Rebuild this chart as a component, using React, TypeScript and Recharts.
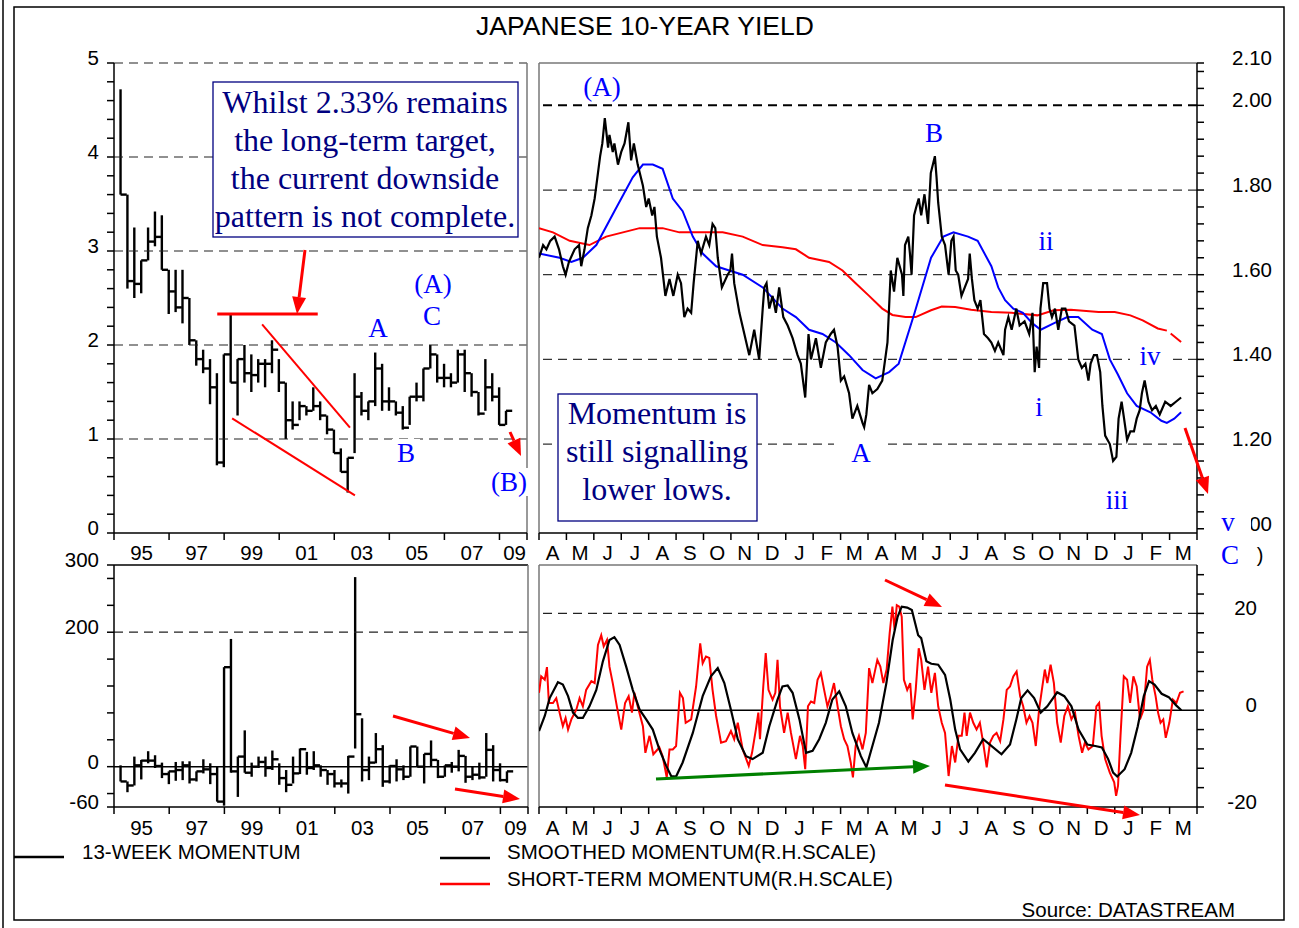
import React from 'react';
import { ComposedChart, Bar, Line, XAxis, YAxis, ReferenceLine } from 'recharts';

const SANS = '"Liberation Sans", Arial, Helvetica, sans-serif';
const SERIF = '"Liberation Serif", "Times New Roman", serif';

// ---------- long-term panels: quarterly bars, first bar 1994 Q2 ----------
const FIRST_QUARTER = 1994.25;

const YIELD_HIGH = [
  4.72, 3.6, 3.25, 2.9, 3.25, 3.42, 3.38, 2.8, 2.8, 2.8,
  2.5, 2.05, 1.95, 1.85, 1.7, 1.9, 2.33, 1.85, 2.0, 1.9,
  1.85, 1.85, 2.05, 1.85, 1.6, 1.4, 1.4, 1.35, 1.55, 1.4,
  1.25, 1.1, 0.9, 0.8, 1.7, 1.5, 1.4, 1.92, 1.8, 1.55,
  1.4, 1.35, 1.45, 1.6, 1.75, 2.0, 1.9, 1.8, 1.7, 1.95,
  1.95, 1.7, 1.5, 1.85, 1.7, 1.55, 1.3,
];
const YIELD_LOW = [
  3.6, 2.6, 2.5, 2.55, 2.9, 3.05, 2.8, 2.33, 2.35, 2.23,
  2.0, 1.78, 1.7, 1.37, 0.72, 0.7, 1.6, 1.25, 1.6, 1.5,
  1.6, 1.55, 1.7, 1.5, 1.0, 1.1, 1.2, 1.25, 1.3, 1.2,
  1.05, 0.85, 0.65, 0.43, 0.85, 1.25, 1.2, 1.35, 1.3, 1.3,
  1.25, 1.1, 1.15, 1.4, 1.4, 1.75, 1.6, 1.55, 1.55, 1.6,
  1.5, 1.45, 1.25, 1.3, 1.4, 1.15, 1.15,
];
const YIELD_CLOSE = [
  3.6, 2.68, 2.65, 2.9, 3.1, 3.15, 2.8, 2.57, 2.4, 2.5,
  2.05, 1.85, 1.75, 1.55, 0.75, 1.9, 1.6, 1.85, 1.7, 1.68,
  1.8, 1.8, 1.95, 1.6, 1.2, 1.15, 1.35, 1.3, 1.35, 1.25,
  1.1, 0.85, 0.65, 0.8, 1.45, 1.3, 1.4, 1.75, 1.4, 1.4,
  1.28, 1.12, 1.45, 1.45, 1.75, 1.9, 1.65, 1.65, 1.6, 1.9,
  1.7, 1.5, 1.27, 1.55, 1.45, 1.15, 1.3,
];

const MOM13_HIGH = [
  2, -22, 15, 10, 23, 17, 6, -7, 7, 8,
  8, -7, 11, 5, 0, 148, 190, 15, 54, 6,
  15, 15, 24, 5, -5, 15, 27, 22, 23, 2,
  -5, -5, -19, 16, 282, 72, 15, 50, 32, 2,
  11, 2, 30, 30, 19, 39, 10, 2, 7, 25,
  16, 0, 6, 50, 32, 5, -7,
];
const MOM13_LOW = [
  -22, -38, -28, -19, 5, -2, -17, -26, -21, -20,
  -25, -22, -10, -26, -52, -58, -9, -45, -9, -15,
  -2, -15, -5, -27, -38, -25, -11, -12, -5, -15,
  -27, -31, -31, -40, 27, -22, -20, 5, -30, -25,
  -22, -20, -15, 0, -25, 1, -17, -15, -9, -7,
  -24, -20, -19, -15, -22, -22, -24,
];
const MOM13_CLOSE = [
  -22, -28, 2, 9, 9, 1, -11, -7, -5, 2,
  -19, -7, -4, -11, -52, 148, -7, 15, -9, 0,
  7, -2, 11, -17, -27, -10, 26, -2, 2, -5,
  -11, -25, -25, 15, 78, -5, 6, 26, -22, 1,
  -4, -15, 30, 0, 19, 10, -15, 2, 0, 16,
  -15, -12, -16, 25, -5, -20, -7,
];

const YEAR_TICKS = [1994, 1996, 1998, 2000, 2002, 2004, 2006, 2008, 2009];
const YEAR_LABEL_AT = [1995, 1997, 1999, 2001, 2003, 2005, 2007, 2008.55];
const YEAR_LABELS = ['95', '97', '99', '01', '03', '05', '07', '09'];

const LEFT_YIELD_LABELS = [0, 1, 2, 3, 4, 5];
const LEFT_YIELD_GRID = [1, 2, 3, 4, 5];
const MOM13_TICKS = [-60, -40, 0, 40, 80, 120, 160, 200, 240, 280, 300];
const MOM13_LABELS = [-60, 0, 200, 300];

// ---------- short-term panels: months since 1 Apr 2007 ----------
const MONTH_LABELS = ['A', 'M', 'J', 'J', 'A', 'S', 'O', 'N', 'D', 'J', 'F', 'M',
  'A', 'M', 'J', 'J', 'A', 'S', 'O', 'N', 'D', 'J', 'F', 'M'];

const DAILY_YIELD: [number, number][] = [
  [0.0, 1.64], [0.15, 1.67], [0.27, 1.66], [0.41, 1.68], [0.57, 1.69], [0.73, 1.66], [0.87, 1.62], [0.97, 1.6],
  [1.09, 1.63], [1.3, 1.66], [1.46, 1.67], [1.54, 1.62], [1.66, 1.66], [1.78, 1.71], [1.91, 1.74], [2.03, 1.78],
  [2.15, 1.84], [2.23, 1.88], [2.31, 1.91], [2.4, 1.97], [2.52, 1.9], [2.57, 1.93], [2.69, 1.89], [2.75, 1.91],
  [2.88, 1.86], [3.0, 1.89], [3.12, 1.91], [3.26, 1.96], [3.36, 1.87], [3.46, 1.91], [3.6, 1.86], [3.79, 1.81],
  [3.91, 1.76], [4.0, 1.78], [4.13, 1.74], [4.21, 1.76], [4.3, 1.69], [4.45, 1.64], [4.61, 1.55], [4.76, 1.59],
  [4.9, 1.55], [5.06, 1.6], [5.18, 1.58], [5.3, 1.5], [5.42, 1.52], [5.55, 1.51], [5.64, 1.58], [5.79, 1.68],
  [5.91, 1.65], [6.09, 1.69], [6.21, 1.67], [6.33, 1.72], [6.43, 1.71], [6.52, 1.64], [6.67, 1.57], [6.88, 1.6],
  [6.98, 1.61], [7.04, 1.65], [7.12, 1.58], [7.31, 1.51], [7.49, 1.46], [7.67, 1.41], [7.85, 1.47], [8.03, 1.4],
  [8.16, 1.52], [8.22, 1.57], [8.3, 1.58], [8.4, 1.52], [8.52, 1.55], [8.64, 1.51], [8.76, 1.57], [8.91, 1.5],
  [9.07, 1.48], [9.25, 1.45], [9.43, 1.41], [9.55, 1.39], [9.71, 1.31], [9.83, 1.46], [9.92, 1.4], [10.1, 1.45],
  [10.28, 1.38], [10.46, 1.44], [10.64, 1.46], [10.76, 1.47], [10.89, 1.43], [11.01, 1.35], [11.13, 1.36], [11.31, 1.32],
  [11.43, 1.26], [11.61, 1.29], [11.8, 1.25], [11.86, 1.24], [11.94, 1.27], [12.04, 1.34], [12.16, 1.32], [12.34, 1.33],
  [12.52, 1.35], [12.71, 1.44], [12.83, 1.61], [12.95, 1.56], [13.07, 1.64], [13.24, 1.6], [13.29, 1.55], [13.35, 1.67],
  [13.47, 1.69], [13.53, 1.65], [13.59, 1.6], [13.68, 1.74], [13.76, 1.76], [13.85, 1.78], [13.94, 1.74], [14.06, 1.79],
  [14.19, 1.72], [14.29, 1.84], [14.44, 1.88], [14.5, 1.83], [14.56, 1.77], [14.69, 1.69], [14.81, 1.67], [14.94, 1.6],
  [15.04, 1.68], [15.12, 1.69], [15.2, 1.61], [15.29, 1.6], [15.41, 1.55], [15.53, 1.57], [15.65, 1.59], [15.71, 1.65],
  [15.79, 1.59], [15.88, 1.54], [16.0, 1.52], [16.1, 1.54], [16.23, 1.46], [16.38, 1.45], [16.5, 1.44], [16.63, 1.42],
  [16.75, 1.44], [16.94, 1.41], [17.0, 1.47], [17.12, 1.5], [17.24, 1.47], [17.41, 1.52], [17.53, 1.48], [17.71, 1.49],
  [17.88, 1.46], [18.0, 1.51], [18.08, 1.37], [18.15, 1.43], [18.24, 1.38], [18.29, 1.52], [18.39, 1.58], [18.53, 1.58],
  [18.62, 1.52], [18.71, 1.5], [18.82, 1.52], [18.94, 1.47], [19.07, 1.52], [19.2, 1.52], [19.33, 1.49], [19.53, 1.48],
  [19.67, 1.4], [19.8, 1.38], [19.93, 1.39], [20.04, 1.35], [20.12, 1.39], [20.24, 1.41], [20.35, 1.41], [20.47, 1.37],
  [20.55, 1.29], [20.65, 1.22], [20.82, 1.2], [20.94, 1.16], [21.06, 1.17], [21.14, 1.26], [21.25, 1.3], [21.34, 1.26],
  [21.45, 1.21], [21.57, 1.23], [21.7, 1.23], [21.8, 1.26], [21.91, 1.28], [21.99, 1.32], [22.09, 1.35], [22.23, 1.3],
  [22.36, 1.28], [22.5, 1.29], [22.64, 1.27], [22.84, 1.3], [23.04, 1.29], [23.23, 1.3], [23.42, 1.31],
];

const SHORT_AVERAGE: [number, number][] = [
  [0, 1.65], [0.75, 1.64], [1.18, 1.63], [1.6, 1.64], [2.09, 1.67], [2.75, 1.75], [3.42, 1.83], [3.79, 1.86],
  [4.15, 1.86], [4.51, 1.85], [4.88, 1.78], [5.24, 1.75], [5.61, 1.69], [5.97, 1.65], [6.46, 1.62], [6.94, 1.61],
  [7.43, 1.6], [8.16, 1.57], [8.88, 1.52], [9.37, 1.5], [9.85, 1.47], [10.34, 1.46], [10.83, 1.44], [11.31, 1.41],
  [11.8, 1.375], [12.28, 1.355], [12.77, 1.37], [13.12, 1.39], [13.7, 1.51], [14.3, 1.64], [14.75, 1.69], [15.12, 1.7],
  [15.65, 1.69], [16.0, 1.68], [16.5, 1.62], [16.75, 1.57], [17.0, 1.54], [17.3, 1.52], [17.65, 1.51], [18.0, 1.485],
  [18.3, 1.47], [18.77, 1.485], [19.27, 1.5], [19.67, 1.5], [20.18, 1.47], [20.53, 1.46], [20.82, 1.4], [21.11, 1.365],
  [21.45, 1.32], [21.8, 1.29], [22.3, 1.275], [22.7, 1.255], [22.9, 1.25], [23.17, 1.26], [23.42, 1.275],
];

const LONG_AVERAGE: [number, number | null][] = [
  [0, 1.71], [0.51, 1.7], [1.12, 1.68], [1.84, 1.67], [2.45, 1.69], [3.06, 1.7], [3.67, 1.71], [4.51, 1.71],
  [5.12, 1.7], [5.97, 1.7], [6.7, 1.7], [7.43, 1.69], [8.16, 1.67], [8.88, 1.665], [9.37, 1.66], [9.85, 1.64],
  [10.58, 1.63], [11.07, 1.61], [11.55, 1.58], [12.04, 1.55], [12.52, 1.52], [12.89, 1.505], [13.37, 1.5], [13.74, 1.5],
  [14.3, 1.516], [14.69, 1.525], [15.18, 1.524], [15.76, 1.517], [16.5, 1.512], [17.24, 1.51], [18.18, 1.504], [18.77, 1.516],
  [19.4, 1.517], [20.41, 1.512], [21.0, 1.512], [21.57, 1.504], [22.02, 1.492], [22.57, 1.473], [22.9, 1.468], [22.97, null],
  [23.04, 1.461], [23.42, 1.441],
];

const SMOOTHED_MOM: [number, number][] = [
  [0, -4.3], [0.21, -1.2], [0.39, 2.5], [0.69, 5.8], [0.87, 5.3], [1.06, 2.9], [1.24, -0.5], [1.42, -1.6],
  [1.6, -1.6], [1.84, 0.8], [2.09, 4.2], [2.33, 10.1], [2.57, 14.5], [2.75, 15.1], [2.94, 13.5], [3.18, 9.0],
  [3.42, 4.2], [3.67, 0.1], [3.91, -1.9], [4.15, -4.0], [4.39, -8.1], [4.64, -11.5], [4.82, -13.6], [5.0, -13.7],
  [5.24, -10.8], [5.61, -4.7], [5.97, 2.9], [6.27, 7.0], [6.52, 8.7], [6.76, 5.6], [7.0, 0.1], [7.25, -6.0],
  [7.55, -9.5], [7.79, -10.1], [8.16, -8.8], [8.4, -3.3], [8.7, 2.2], [8.88, 4.9], [9.07, 5.1], [9.25, 3.6],
  [9.5, -1.9], [9.74, -8.8], [9.98, -8.4], [10.22, -6.0], [10.46, -2.6], [10.7, 2.2], [10.95, 3.9], [11.19, 0.8],
  [11.43, -4.7], [11.74, -9.5], [11.94, -11.8], [12.16, -7.4], [12.4, -2.6], [12.67, 5.6], [12.9, 14.5], [13.08, 19.3],
  [13.23, 21.4], [13.43, 21.2], [13.6, 20.7], [13.83, 15.5], [13.94, 14.9], [14.13, 10.1], [14.31, 9.6], [14.56, 9.4],
  [14.81, 7.3], [15.0, 2.2], [15.18, -4.0], [15.36, -8.1], [15.66, -10.6], [15.9, -8.8], [16.2, -6.0], [16.51, -7.4],
  [16.87, -9.1], [17.18, -7.1], [17.41, -1.9], [17.59, 2.5], [17.82, 4.1], [18.06, 2.5], [18.3, -0.5], [18.54, 0.8],
  [18.9, 3.7], [19.16, 2.9], [19.42, 0.8], [19.68, -4.0], [20.0, -7.1], [20.29, -7.4], [20.53, -7.7], [20.76, -10.1],
  [20.94, -12.9], [21.09, -13.7], [21.36, -12.2], [21.6, -8.8], [21.84, -3.3], [22.06, 2.9], [22.25, 6.0], [22.45, 5.3],
  [22.71, 3.4], [22.97, 2.7], [23.24, 1.0], [23.43, 0.0],
];

const SHORT_MOM: [number, number][] = [
  [0.0, 3.6], [0.08, 7.0], [0.21, 6.3], [0.29, 8.9], [0.36, 1.5], [0.51, 1.5], [0.63, 2.5], [0.75, -0.5],
  [0.87, -3.3], [0.97, -1.6], [1.06, -4.0], [1.18, -1.9], [1.36, 0.1], [1.48, 2.5], [1.6, 0.8], [1.72, 4.2],
  [1.91, 6.0], [2.03, 5.6], [2.15, 13.5], [2.27, 15.5], [2.36, 13.2], [2.48, 14.5], [2.57, 9.0], [2.69, 5.6],
  [2.84, 0.8], [3.0, -4.0], [3.14, 1.5], [3.27, 2.9], [3.39, -0.5], [3.48, 3.6], [3.6, 0.8], [3.79, -3.3],
  [3.88, -8.8], [4.03, -5.3], [4.17, -9.1], [4.39, -7.7], [4.51, -9.5], [4.66, -13.9], [4.76, -8.1], [4.88, -8.1],
  [5.0, -7.4], [5.14, 3.6], [5.25, 2.5], [5.35, -2.6], [5.55, -1.9], [5.73, 4.9], [5.88, 13.8], [5.97, 9.7],
  [6.09, 11.1], [6.21, 10.8], [6.33, 4.2], [6.46, -1.2], [6.64, -6.7], [6.82, -6.4], [7.0, -4.3], [7.12, -6.0],
  [7.25, -2.6], [7.43, -8.1], [7.65, -11.5], [7.77, -8.8], [7.91, -4.0], [8.0, -0.5], [8.06, -6.0], [8.18, 4.9],
  [8.27, 11.8], [8.37, 4.2], [8.52, 2.2], [8.62, 3.6], [8.7, 10.4], [8.79, 0.8], [8.94, -4.7], [9.07, -0.5],
  [9.19, -4.7], [9.37, -10.1], [9.52, -5.3], [9.62, -7.4], [9.71, -12.2], [9.81, 0.8], [9.92, 1.8], [10.04, 1.5],
  [10.16, 6.3], [10.28, 7.7], [10.4, 4.2], [10.52, 0.8], [10.64, 2.9], [10.76, 5.6], [10.89, 0.8], [11.01, -3.3],
  [11.13, -6.0], [11.25, -7.4], [11.37, -10.8], [11.45, -13.9], [11.55, -7.4], [11.67, -5.3], [11.8, -8.1], [11.92, -4.7],
  [12.04, 8.7], [12.16, 5.6], [12.34, 10.4], [12.45, 9.0], [12.56, 5.6], [12.68, 8.4], [12.79, 15.9], [12.89, 21.4],
  [12.97, 16.6], [13.05, 21.7], [13.14, 21.4], [13.23, 19.3], [13.31, 6.3], [13.43, 4.2], [13.54, 5.6], [13.63, -1.9],
  [13.74, 4.2], [13.85, 12.8], [13.94, 10.4], [14.06, 4.2], [14.19, 9.0], [14.31, 3.6], [14.44, 7.7], [14.56, 0.8],
  [14.69, -2.6], [14.81, -4.7], [14.94, -13.6], [15.06, -7.4], [15.18, -10.8], [15.3, -5.3], [15.42, -5.3], [15.52, -0.5],
  [15.6, -5.3], [15.72, -0.5], [15.84, -2.6], [15.96, -4.0], [16.08, -2.6], [16.2, -6.7], [16.33, -11.8], [16.45, -6.7],
  [16.57, -5.3], [16.69, -4.7], [16.82, -6.4], [16.94, -1.9], [17.06, 4.2], [17.18, 4.9], [17.3, 7.0], [17.42, 8.0],
  [17.55, 2.9], [17.66, 0.8], [17.78, -2.6], [17.89, -1.2], [18.0, -2.6], [18.12, -7.4], [18.24, 0.1], [18.36, 4.9],
  [18.45, 8.4], [18.54, 5.6], [18.66, 9.4], [18.78, 5.6], [18.9, -2.6], [19.03, -6.7], [19.16, -1.2], [19.29, 0.8],
  [19.42, -1.9], [19.55, -0.5], [19.68, -5.3], [19.81, -8.8], [19.91, -6.7], [20.04, -8.1], [20.2, -7.4], [20.33, 0.8],
  [20.43, 1.5], [20.52, -5.3], [20.65, -10.1], [20.82, -12.9], [20.98, -14.9], [21.05, -17.7], [21.12, -15.6], [21.21, -5.3],
  [21.33, 7.0], [21.45, 6.3], [21.56, 1.5], [21.68, 7.0], [21.8, 4.9], [21.92, -1.9], [22.05, 0.1], [22.18, 9.0],
  [22.28, 10.4], [22.37, 6.3], [22.49, 2.9], [22.58, -0.5], [22.67, -2.6], [22.77, -1.9], [22.86, -5.7], [22.99, -2.6],
  [23.12, 2.2], [23.25, 1.5], [23.38, 3.6], [23.51, 3.9],
];

const RIGHT_YIELD_LABELS = [1.0, 1.2, 1.4, 1.6, 1.8, 2.0, 2.1];
const RIGHT_YIELD_GRID = [1.2, 1.4, 1.6, 1.8, 2.0];
const RIGHT_MOM_LABELS = [-20, 0, 20];

// ---------- derived tables / axis tick lists ----------
const quarterRows = (hi: number[], lo: number[], cl: number[]) =>
  hi.map((h, i) => ({ t: FIRST_QUARTER + i * 0.25, range: [lo[i], h], hi: h, lo: lo[i], close: cl[i] }));
const yieldRows = quarterRows(YIELD_HIGH, YIELD_LOW, YIELD_CLOSE);
const momRows = quarterRows(MOM13_HIGH, MOM13_LOW, MOM13_CLOSE);
const pts = (a: [number, number | null][]) => a.map(([t, v]) => ({ t, v }));

const YEAR_AXIS_TICKS = [...YEAR_TICKS, ...YEAR_LABEL_AT].sort((a, b) => a - b);
const MONTH_TICK_AT = Array.from({ length: 25 }, (_, i) => i);
const MONTH_LABEL_AT = MONTH_LABELS.map((_, i) => i + 0.5);
const MONTH_AXIS_TICKS = [...MONTH_TICK_AT, ...MONTH_LABEL_AT].sort((a, b) => a - b);
const LEFT_YIELD_TICKS = Array.from({ length: 26 }, (_, i) => Math.round(i * 2) / 10);
const RIGHT_YIELD_TICKS = [...Array.from({ length: 28 }, (_, i) => Math.round(100 + i * 4) / 100), 2.1];
const RIGHT_MOM_TICKS = Array.from({ length: 13 }, (_, i) => -20 + i * 4);

const AXIS = { stroke: '#000', strokeWidth: 1.5 };
const FRAME = '#777';
const DASH = '9 6';
const LABEL_SIZE = 20.5;

const near = (list: number[], v: number) => list.findIndex((l) => Math.abs(l - v) < 1e-6);

const xTick = (tickAt: number[], labelAt: number[], labels: string[], dy: number) => (p: any) => {
  const v = p.payload.value;
  const k = near(labelAt, v);
  if (k >= 0) {
    return (
      <text x={p.x} y={p.y + dy} textAnchor="middle" fontSize={LABEL_SIZE} fontFamily={SANS} fill="#000">
        {labels[k]}
      </text>
    );
  }
  if (near(tickAt, v) >= 0) return <line x1={p.x} y1={p.y} x2={p.x} y2={p.y + 7} stroke="#000" strokeWidth={1.5} />;
  return <g />;
};

const yTick = (labels: number[], digits: number, dx: number) => (p: any) => {
  const v = p.payload.value;
  if (near(labels, v) < 0) return <g />;
  return (
    <text x={p.x + dx} y={p.y + 2} textAnchor="end" fontSize={LABEL_SIZE} fontFamily={SANS} fill="#000">
      {v.toFixed(digits)}
    </text>
  );
};

// high-low bar with the close carried to the next quarter (step look)
const HlcShape = (p: any) => {
  const { x, y, width, height, payload } = p;
  if (x == null || y == null || !payload) return <g />;
  const top = Math.min(y, y + height);
  const bottom = Math.max(y, y + height);
  const span = payload.hi - payload.lo;
  const yc = span > 0 ? top + ((bottom - top) * (payload.hi - payload.close)) / span : top;
  const cx = x + width / 2;
  return (
    <g>
      <line x1={cx} y1={top} x2={cx} y2={bottom} stroke="#000" strokeWidth={2.4} />
      <line x1={cx} y1={yc} x2={cx + width} y2={yc} stroke="#000" strokeWidth={2.4} />
    </g>
  );
};

const LongYieldChart = () => (
  <ComposedChart width={560} height={575} data={yieldRows} margin={{ top: 63, right: 33, bottom: 12, left: 54 }}>
    <XAxis dataKey="t" type="number" domain={[1994, 2009]} allowDataOverflow ticks={YEAR_AXIS_TICKS} interval={0}
      tick={xTick(YEAR_TICKS, YEAR_LABEL_AT, YEAR_LABELS, 27)} tickLine={false} tickSize={0} tickMargin={0} height={30} axisLine={AXIS} />
    <YAxis type="number" domain={[0, 5]} allowDataOverflow ticks={LEFT_YIELD_TICKS} interval={0}
      tick={yTick(LEFT_YIELD_LABELS, 0, 0)} tickSize={7} tickMargin={8} width={60} axisLine={AXIS} tickLine={AXIS} />
    {LEFT_YIELD_GRID.map((v) => (
      <ReferenceLine key={v} y={v} stroke="#222" strokeWidth={1.2} strokeDasharray={DASH} />
    ))}
    <ReferenceLine x={2009} stroke={FRAME} strokeWidth={1.5} />
    <ReferenceLine segment={[{ x: 1997.75, y: 2.33 }, { x: 2001.4, y: 2.33 }]} stroke="#ff0000" strokeWidth={3} ifOverflow="visible" />
    <ReferenceLine segment={[{ x: 1999.38, y: 2.22 }, { x: 2002.57, y: 1.12 }]} stroke="#ff0000" strokeWidth={2} ifOverflow="visible" />
    <ReferenceLine segment={[{ x: 1998.29, y: 1.22 }, { x: 2002.75, y: 0.4 }]} stroke="#ff0000" strokeWidth={2} ifOverflow="visible" />
    <Bar dataKey="range" barSize={7} shape={HlcShape} isAnimationActive={false} />
  </ComposedChart>
);

const LongMomChart = () => (
  <ComposedChart width={560} height={320} data={momRows} margin={{ top: 25, right: 32, bottom: 23, left: 54 }}>
    <XAxis dataKey="t" type="number" domain={[1994, 2009]} allowDataOverflow ticks={YEAR_AXIS_TICKS} interval={0}
      tick={xTick(YEAR_TICKS, YEAR_LABEL_AT, YEAR_LABELS, 28)} tickLine={false} tickSize={0} tickMargin={0} height={30} axisLine={AXIS} />
    <YAxis type="number" domain={[-60, 300]} allowDataOverflow ticks={MOM13_TICKS} interval={0}
      tick={yTick(MOM13_LABELS, 0, 0)} tickSize={7} tickMargin={8} width={60} axisLine={AXIS} tickLine={AXIS} />
    <ReferenceLine y={200} stroke="#222" strokeWidth={1.2} strokeDasharray={DASH} />
    <ReferenceLine y={0} stroke="#000" strokeWidth={1.5} />
    <ReferenceLine y={300} stroke="#000" strokeWidth={1.5} />
    <ReferenceLine x={2009} stroke={FRAME} strokeWidth={1.5} />
    <Bar dataKey="range" barSize={7} shape={HlcShape} isAnimationActive={false} />
  </ComposedChart>
);

const DailyYieldChart = () => (
  <ComposedChart width={769} height={575} margin={{ top: 63, right: 42, bottom: 12, left: 9 }}>
    <XAxis dataKey="t" type="number" domain={[0, 24]} allowDataOverflow ticks={MONTH_AXIS_TICKS} interval={0}
      tick={xTick(MONTH_TICK_AT, MONTH_LABEL_AT, MONTH_LABELS, 27)} tickLine={false} tickSize={0} tickMargin={0} height={30} axisLine={AXIS} />
    <YAxis orientation="right" type="number" domain={[0.99, 2.1]} allowDataOverflow ticks={RIGHT_YIELD_TICKS} interval={0}
      tick={yTick(RIGHT_YIELD_LABELS, 2, 66)} tickSize={7} tickMargin={2} width={60} axisLine={AXIS} tickLine={AXIS} />
    {RIGHT_YIELD_GRID.map((v) => (
      <ReferenceLine key={v} y={v} stroke={v === 2.0 ? '#000' : '#333'} strokeWidth={v === 2.0 ? 2 : 1.2} strokeDasharray={DASH} />
    ))}
    <ReferenceLine x={0} stroke={FRAME} strokeWidth={1.5} />
    <ReferenceLine y={2.1} stroke={FRAME} strokeWidth={1.5} />
    <Line data={pts(LONG_AVERAGE)} dataKey="v" stroke="#ff0000" strokeWidth={2} dot={false} isAnimationActive={false} />
    <Line data={pts(SHORT_AVERAGE)} dataKey="v" stroke="#0000ff" strokeWidth={2} dot={false} isAnimationActive={false} />
    <Line data={pts(DAILY_YIELD)} dataKey="v" stroke="#000" strokeWidth={2.2} dot={false} isAnimationActive={false} />
  </ComposedChart>
);

const DailyMomChart = () => (
  <ComposedChart width={769} height={320} margin={{ top: 25, right: 42, bottom: 23, left: 9 }}>
    <XAxis dataKey="t" type="number" domain={[0, 24]} allowDataOverflow ticks={MONTH_AXIS_TICKS} interval={0}
      tick={xTick(MONTH_TICK_AT, MONTH_LABEL_AT, MONTH_LABELS, 28)} tickLine={false} tickSize={0} tickMargin={0} height={30} axisLine={AXIS} />
    <YAxis orientation="right" type="number" domain={[-20, 30]} allowDataOverflow ticks={RIGHT_MOM_TICKS} interval={0}
      tick={yTick(RIGHT_MOM_LABELS, 0, 51)} tickSize={7} tickMargin={2} width={60} axisLine={AXIS} tickLine={AXIS} />
    <ReferenceLine y={20} stroke="#222" strokeWidth={1.2} strokeDasharray={DASH} />
    <ReferenceLine y={0} stroke="#000" strokeWidth={1.5} />
    <ReferenceLine x={0} stroke={FRAME} strokeWidth={1.5} />
    <ReferenceLine y={30} stroke={FRAME} strokeWidth={1.5} />
    <Line data={pts(SHORT_MOM)} dataKey="v" stroke="#ff0000" strokeWidth={2} dot={false} isAnimationActive={false} />
    <Line data={pts(SMOOTHED_MOM)} dataKey="v" stroke="#000" strokeWidth={2.2} dot={false} isAnimationActive={false} />
  </ComposedChart>
);

// ---------- annotations ----------
const ARROWS = [
  { x1: 305, y1: 250, x2: 297, y2: 314, c: '#ff0000' },
  { x1: 510, y1: 432, x2: 521, y2: 456, c: '#ff0000' },
  { x1: 1185, y1: 428, x2: 1208, y2: 494, c: '#ff0000' },
  { x1: 393, y1: 716, x2: 470, y2: 738, c: '#ff0000' },
  { x1: 455, y1: 789, x2: 520, y2: 799, c: '#ff0000' },
  { x1: 885, y1: 580, x2: 942, y2: 607, c: '#ff0000' },
  { x1: 656, y1: 779, x2: 930, y2: 766, c: '#008000' },
  { x1: 945, y1: 785, x2: 1140, y2: 815, c: '#ff0000' },
];

// w = width of the white patch behind each label
const WAVE_LABELS = [
  { t: '(A)', x: 433, y: 284, w: 48 }, { t: 'A', x: 378, y: 328, w: 26 }, { t: 'C', x: 432, y: 316, w: 26 },
  { t: 'B', x: 406, y: 453, w: 28 }, { t: '(B)', x: 509, y: 482, w: 46 },
  { t: '(A)', x: 602, y: 87, w: 74 }, { t: 'B', x: 934, y: 133, w: 28 }, { t: 'A', x: 861, y: 453, w: 54 },
  { t: 'ii', x: 1046, y: 241, w: 24 }, { t: 'i', x: 1039, y: 407, w: 16 }, { t: 'iv', x: 1150, y: 356, w: 40 },
  { t: 'iii', x: 1117, y: 500, w: 34 }, { t: 'v', x: 1228, y: 522, w: 46 }, { t: 'C', x: 1230, y: 555, w: 44 },
];

const Arrow = ({ x1, y1, x2, y2, c }: { x1: number; y1: number; x2: number; y2: number; c: string }) => {
  const a = Math.atan2(y2 - y1, x2 - x1);
  const head = 17;
  const bx = x2 - head * Math.cos(a);
  const by = y2 - head * Math.sin(a);
  const px = -Math.sin(a) * 7;
  const py = Math.cos(a) * 7;
  return (
    <g>
      <line x1={x1} y1={y1} x2={bx} y2={by} stroke={c} strokeWidth={3} />
      <polygon points={`${x2},${y2} ${bx + px},${by + py} ${bx - px},${by - py}`} fill={c} />
    </g>
  );
};

const TextBox = ({ x, y, w, h, lines, cx, top }: { x: number; y: number; w: number; h: number; lines: string[]; cx: number; top: number }) => (
  <g>
    <rect x={x} y={y} width={w} height={h} fill="#fff" stroke="#000080" strokeWidth={1.3} />
    {lines.map((l, i) => (
      <text key={i} x={cx} y={top + i * 38} textAnchor="middle" fontSize={32} fontFamily={SERIF} fill="#000080">
        {l}
      </text>
    ))}
  </g>
);

const Overlay = () => (
  <svg width={1299} height={928} style={{ position: 'absolute', left: 0, top: 0, pointerEvents: 'none' }}>
    <line x1={3} y1={0} x2={3} y2={928} stroke="#000" strokeWidth={1.5} />
    <rect x={14} y={7} width={1270} height={913} fill="none" stroke="#000" strokeWidth={1.5} />
    <text x={645} y={35} textAnchor="middle" fontSize={26.5} fontFamily={SANS} fill="#000">JAPANESE 10-YEAR YIELD</text>

    <TextBox x={213} y={82} w={305} h={155} cx={365} top={113}
      lines={['Whilst 2.33% remains', 'the long-term target,', 'the current downside', 'pattern is not complete.']} />
    <TextBox x={558} y={394} w={199} h={127} cx={657} top={424}
      lines={['Momentum is', 'still signalling', 'lower lows.']} />

    {ARROWS.map((a, i) => <Arrow key={i} {...a} />)}

    {WAVE_LABELS.map((l, i) => (
      <g key={i}>
        <rect x={l.x - l.w / 2} y={l.y - 14} width={l.w} height={28} fill="#fff" />
        <text x={l.x} y={l.y + 9} textAnchor="middle" fontSize={27} fontFamily={SERIF} fill="#0000ff">{l.t}</text>
      </g>
    ))}
    <text x={1260} y={562} textAnchor="middle" fontSize={20} fontFamily={SANS} fill="#000">)</text>

    <line x1={14} y1={857} x2={64} y2={857} stroke="#000" strokeWidth={2.5} />
    <text x={82} y={859} fontSize={LABEL_SIZE} fontFamily={SANS} fill="#000">13-WEEK MOMENTUM</text>
    <line x1={440} y1={858} x2={490} y2={858} stroke="#000" strokeWidth={2.5} />
    <text x={507} y={859} fontSize={LABEL_SIZE} fontFamily={SANS} fill="#000">SMOOTHED MOMENTUM(R.H.SCALE)</text>
    <line x1={440} y1={884} x2={490} y2={884} stroke="#ff0000" strokeWidth={2.5} />
    <text x={507} y={886} fontSize={LABEL_SIZE} fontFamily={SANS} fill="#000">SHORT-TERM MOMENTUM(R.H.SCALE)</text>
    <text x={1235} y={917} textAnchor="end" fontSize={LABEL_SIZE} fontFamily={SANS} fill="#000">Source: DATASTREAM</text>
  </svg>
);

export default function App() {
  return (
    <div style={{ position: 'absolute', left: 0, top: 0, width: 1299, height: 928, background: '#fff', overflow: 'hidden' }}>
      <div style={{ position: 'absolute', left: 0, top: 0 }}><LongYieldChart /></div>
      <div style={{ position: 'absolute', left: 530, top: 0 }}><DailyYieldChart /></div>
      <div style={{ position: 'absolute', left: 0, top: 540 }}><LongMomChart /></div>
      <div style={{ position: 'absolute', left: 530, top: 540 }}><DailyMomChart /></div>
      <Overlay />
    </div>
  );
}
